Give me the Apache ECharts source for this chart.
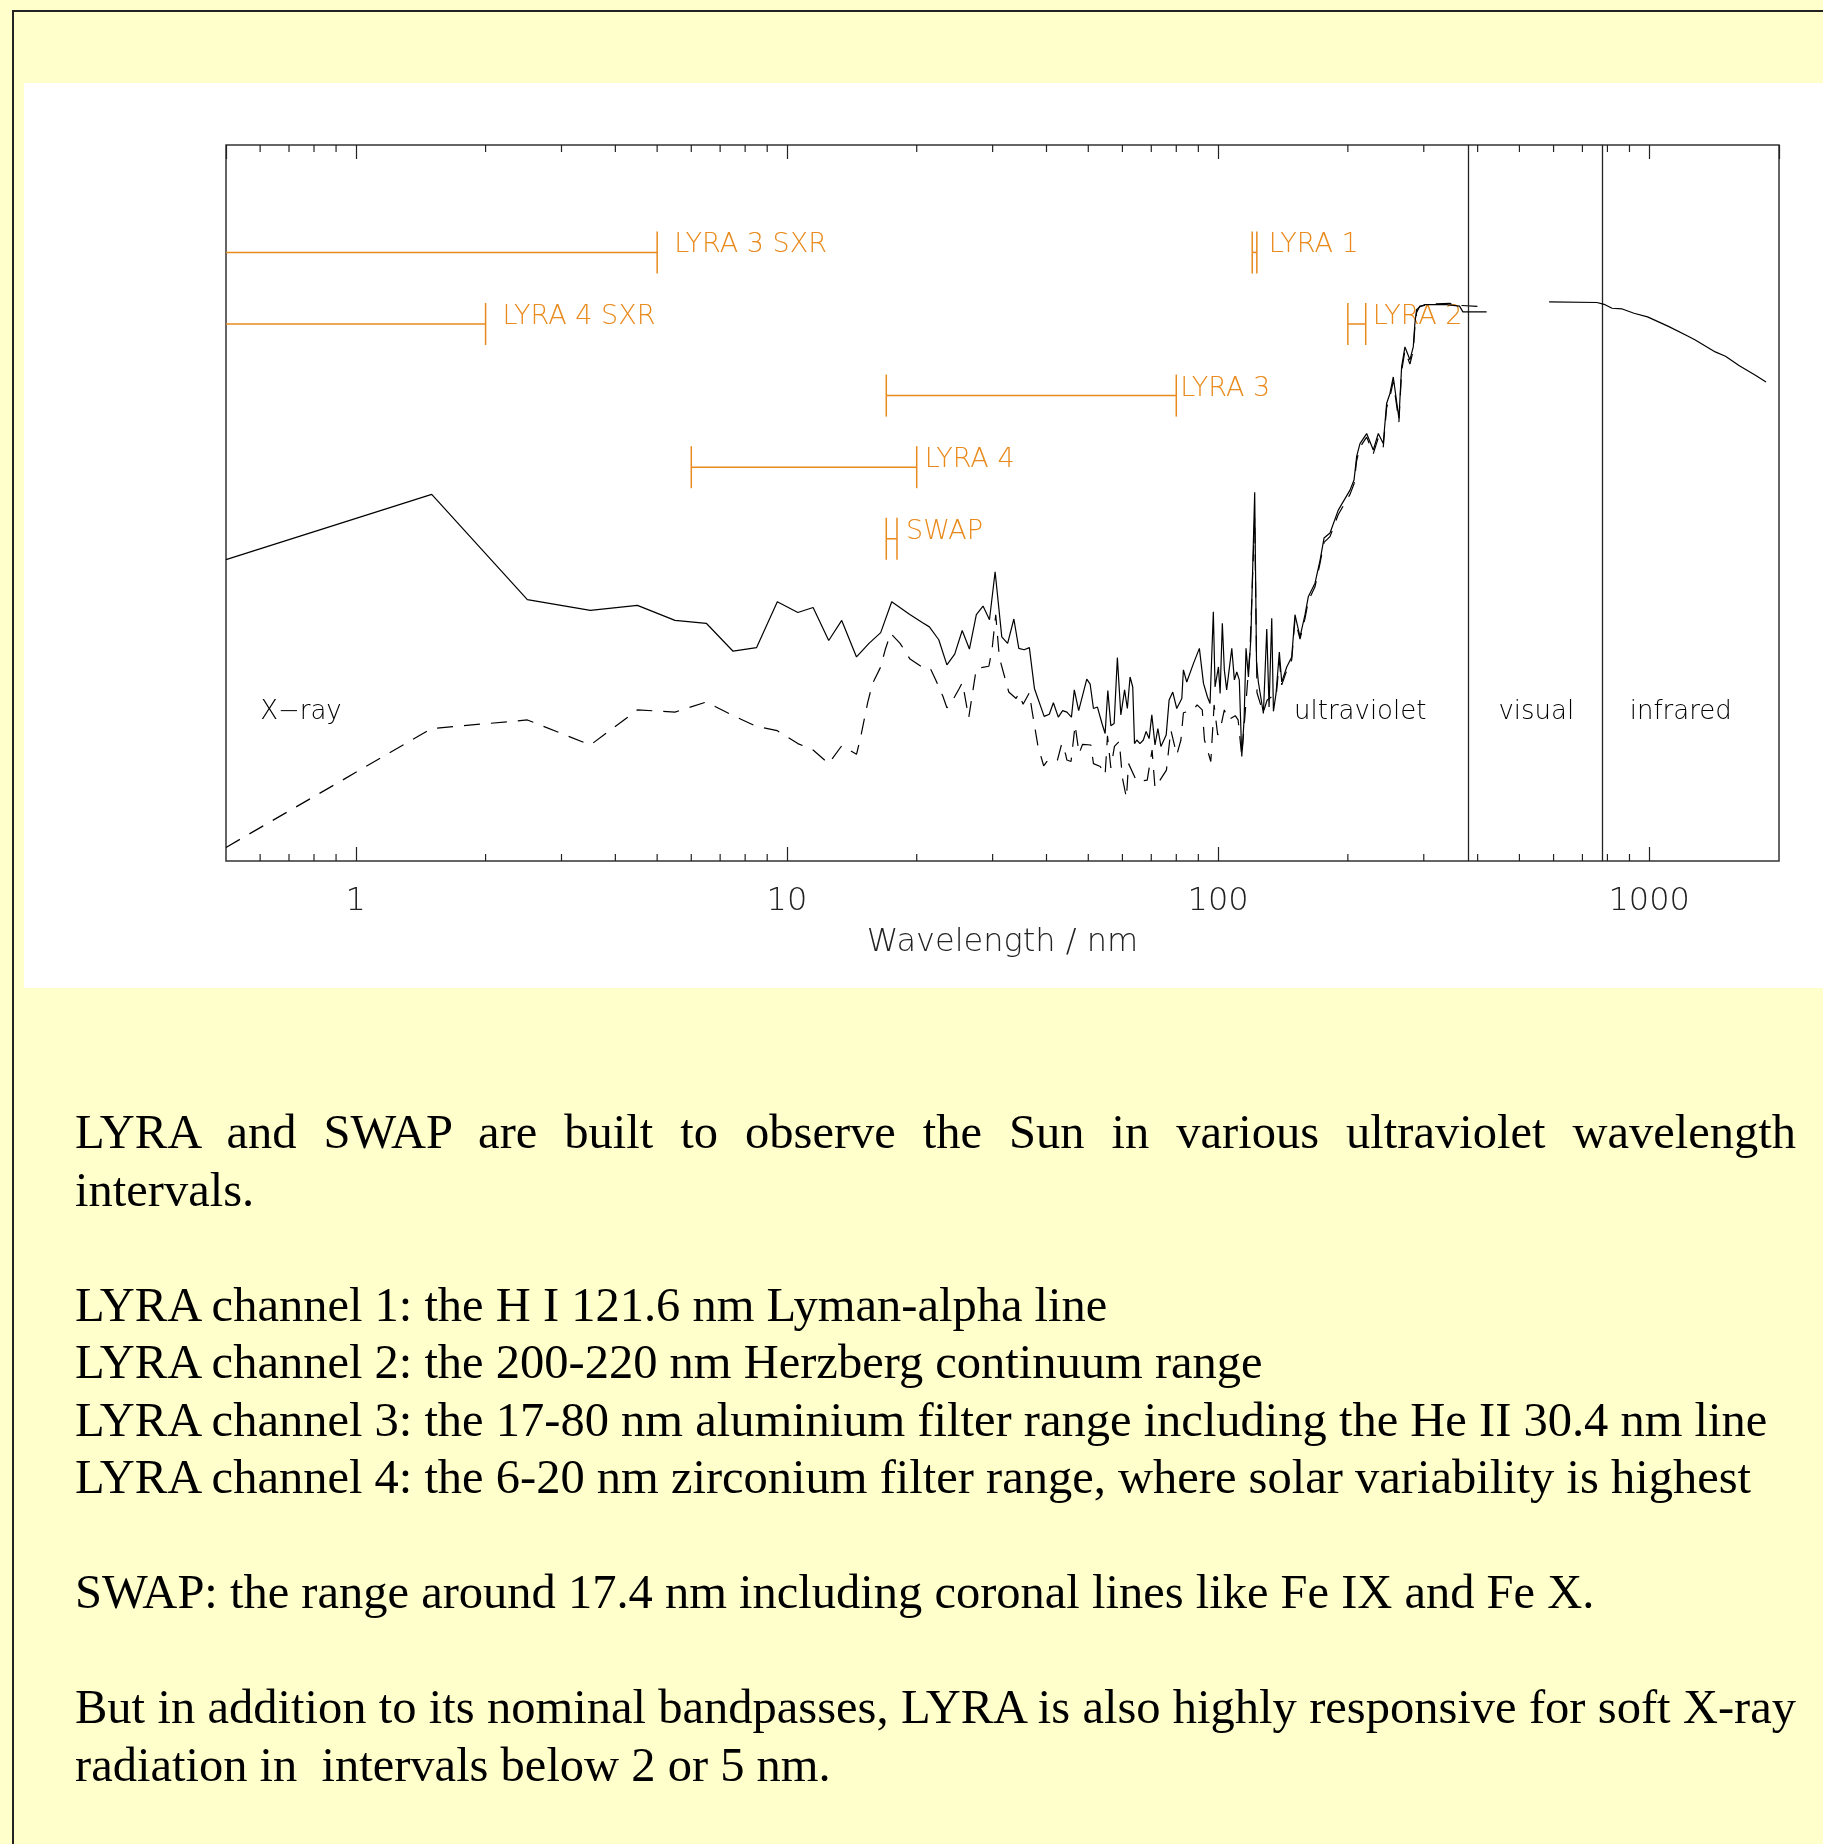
<!DOCTYPE html>
<html><head><meta charset="utf-8">
<script src="https://cdn.jsdelivr.net/npm/echarts@6/dist/echarts.min.js"></script>
<style>
html,body{margin:0;padding:0;width:1823px;height:1844px;overflow:hidden;background:#FFFFCC;}
#frame{position:absolute;left:12px;top:10px;width:1900px;height:1900px;border:2px solid #222;box-sizing:border-box;}
#panel{position:absolute;left:24px;top:83px;width:1799px;height:905px;background:#fff;}
#chart{position:absolute;left:0;top:0;width:1823px;height:1000px;}
#text{position:absolute;left:75px;top:1103px;width:1721px;font-family:"Liberation Serif","Times New Roman",serif;font-size:48.5px;line-height:57.5px;color:#000;}
#text div{white-space:nowrap;height:57.5px;}
#text div.j{text-align:justify;text-align-last:justify;white-space:normal;}
</style></head>
<body>
<div id="frame"></div>
<div id="panel"></div>
<div id="chart"></div>
<div id="text">
<div class="j">LYRA and SWAP are built to observe the Sun in various ultraviolet wavelength</div>
<div>intervals.</div>
<div>&nbsp;</div>
<div>LYRA channel 1: the H I 121.6 nm Lyman-alpha line</div>
<div>LYRA channel 2: the 200-220 nm Herzberg continuum range</div>
<div>LYRA channel 3: the 17-80 nm aluminium filter range including the He II 30.4 nm line</div>
<div>LYRA channel 4: the 6-20 nm zirconium filter range, where solar variability is highest</div>
<div>&nbsp;</div>
<div>SWAP: the range around 17.4 nm including coronal lines like Fe IX and Fe X.</div>
<div>&nbsp;</div>
<div class="j">But in addition to its nominal bandpasses, LYRA is also highly responsive for soft X-ray</div>
<div>radiation in&nbsp; intervals below 2 or 5 nm.</div>
</div>
<script>
// ---- data ----
const solidWl = [0.5,1.5,2.5,3.5,4.5,5.5,6.5,7.5,8.5,9.5,10.6,11.5,12.5,13.4,14.5,15.5,16.5,17.5,19.2,20.6,21.4,22.5,23.5,24.5,25.5,26.5,27.5,28.5,29.5,30.4,31.5,32.5,33.6,34.5,35.5,36.5,37.5,39.5,40.6,41.5,42.6,43.6,44.6,45.7,46.4,47.5,49.6,50.5,51.4,52.5,53.8,54.7,55.5,56.4,57.4,58.4,59.5,60.7,61.6,62.5,63.4,64.0,64.8,65.9,67.1,68.1,69.2,70.2,71.4,72.5,73.7,75.8,77.0,78.5,80.2,82.4,83.1,84.6,87.7,90.5,92.5,94.5,95.8,97.5,98.4,100.2,101.1,102.3,103.4,104.7,107.6,109.1,110.5,112.0,113.5,114.9,116.1,117.6,119.1,121.6,122.8,124.0,127.4,129.7,131.3,133.2,134.4,136.3,138.7,140.5,144.3,148.2,150.8,154.9,159.1,161.9,167.8,172.4,176.1,181.8,190.0,202.3,206.7,209.6,213.4,221.1,229.1,235.3,241.6,246.0,250.4,254.9,262.7,266.5,271.3,278.6,283.6,286.1,288.7,293.8,301.8,338.8,363.1,369.7,419.7,500,586,756,790,820,866,922,991,1105,1231,1276,1423,1503,1615,1767,1866];
const solidVal = [42.1,51.2,36.5,35.0,35.7,33.6,33.2,29.3,29.8,36.2,34.7,35.4,30.8,33.6,28.5,30.4,31.9,36.2,34.5,33.3,32.7,30.9,27.4,28.9,32.2,29.6,34.4,35.6,33.7,40.4,31.3,30.4,33.8,29.7,29.5,29.8,24.1,20.2,20.5,22.1,20.1,21.0,20.8,20.1,23.9,21.0,25.4,24.7,21.3,21.5,19.2,17.8,23.8,18.9,19.2,28.4,20.4,23.9,21.3,25.7,24.3,16.4,16.9,16.4,16.9,18.1,17.1,20.4,16.2,18.5,16.0,17.6,22.5,23.6,21.3,22.7,26.7,25.0,27.6,29.7,24.8,22.9,22.0,34.8,24.3,27.1,23.4,33.2,26.7,23.9,29.7,25.3,26.4,25.3,14.6,19.7,29.7,25.7,30.9,51.5,27.8,25.0,20.6,32.4,21.5,33.9,20.9,23.4,29.2,25.0,27.1,28.5,34.4,31.3,34.4,36.9,38.8,42.0,45.1,45.8,49.0,51.8,53.2,56.5,58.3,59.7,57.4,59.7,58.3,63.9,65.3,67.6,61.8,69.0,71.8,70.0,71.8,75.1,77.0,77.4,77.7,77.7,77.5,76.7,76.7,null,78.1,78.0,77.7,77.2,77.1,76.5,76.0,74.7,73.3,72.8,71.1,70.5,69.2,67.8,66.9];
const dashedWl = [0.5,1.5,2.5,3.5,4.5,5.5,6.5,7.5,8.5,9.5,10.6,11.5,12.5,13.4,14.5,14.8,15.4,15.8,16.5,16.9,17.4,18.3,19.3,20.8,21.5,22.1,23.0,23.5,23.9,25.1,25.5,25.8,26.4,26.7,27.5,29.4,29.9,30.5,31.1,32.7,34.0,34.5,35.3,36.5,37.0,38.2,39.4,40.1,41.0,42.4,43.4,44.3,44.6,45.6,46.6,47.6,48.5,50.7,51.4,53.3,54.7,55.4,56.4,57.5,59.0,60.0,61.3,62.0,64.8,68.5,70.3,71.4,75.9,77.7,80.2,82.0,83.1,87.6,89.4,91.9,93.0,96.2,97.9,99.8,101.1,103.4,105.6,109.6,111.3,113.5,116.2,118.6,121.6,123.1,127.2,130.0,133.5,136.3,138.7,140.5,144.3,148.2,150.8,154.9,159.1,161.9,167.8,172.4,176.1,181.8,190.0,202.3,206.7,209.6,213.4,221.1,229.1,235.3,241.6,246.0,250.4,254.9,262.7,266.5,271.3,278.6,283.6,286.1,288.7,293.8,320.0,345.0,355.0,363.0,420.0];
const dashedVal = [1.9,18.5,19.7,16.2,21.1,20.8,22.2,20.3,18.8,18.2,16.4,15.5,13.6,16.1,14.9,17.1,22.2,24.8,27.1,29.5,31.8,30.4,28.2,26.9,26.9,25.4,23.0,21.4,21.8,24.1,24.9,23.4,20.0,21.9,26.9,27.2,29.5,34.4,28.4,23.6,22.7,23.4,21.9,23.5,21.1,16.1,13.3,13.9,13.6,14.1,16.4,14.9,14.1,13.9,19.0,15.0,16.3,16.2,13.6,13.2,12.0,17.5,13.0,16.0,16.7,11.6,8.8,13.6,11.1,11.3,15.5,10.2,12.7,18.3,14.8,16.9,20.7,21.1,21.8,21.1,16.9,13.9,21.8,17.6,18.3,21.1,19.7,20.3,19.7,14.6,22.5,29.5,48.0,23.5,20.7,22.5,23.0,22.8,28.0,24.6,26.6,28.1,33.8,31.0,33.9,36.3,38.3,41.6,44.5,45.3,48.4,51.2,52.7,55.9,57.8,59.2,56.9,59.1,57.8,63.3,64.8,67.0,61.3,68.4,71.3,69.4,71.3,74.6,76.6,77.5,77.8,77.9,77.4,77.6,77.4];

const bandNames = ['LYRA 3 SXR','LYRA 4 SXR','LYRA 3','LYRA 4','SWAP','LYRA 1','LYRA 2'];
const bandStart = [0.1, 0.1, 17, 6, 17, 120, 200];
const bandEnd   = [5, 2, 80, 20, 18, 123, 220];
const bandLevel = [85, 75, 65, 55, 45, 85, 75];

const regionNames = ['X\u2212ray','ultraviolet','visual','infrared'];
const regionStart = [0.6, 150, 447, 901];
const regionLevel = [20.8, 20.8, 20.8, 20.8];

const regionBounds = [380, 780];
const tickLabels = ['1','10','100','1000'];
const minorTicks = [0.6,0.7,0.8,0.9,2,3,4,5,6,7,8,9,20,30,40,50,60,70,80,90,200,300,400,500,600,700,800,900];

// ---- styles ----
const ORANGE = '#E98A1C';
const labelGap = [17, 17, 4, 8, 9, 12, 7];
const FONT = '"DejaVu Sans", Arial, sans-serif';

const chart = echarts.init(document.getElementById('chart'), null, {renderer:'canvas'});

const toPairs = (xs, ys) => xs.map((x, i) => [x, ys[i] === null ? '-' : ys[i]]);

const xBase = {
  type: 'log', logBase: 10, min: 0.5, max: 2000,
  axisLine: {show: false},
  splitLine: {show: false},
  minorTick: {show: false},
  axisTick: {show: true, inside: true, length: 14, lineStyle: {color: '#222', width: 1.2}}
};

const option = {
  backgroundColor: 'transparent',
  animation: false,
  grid: {left: 226, top: 145, width: 1553, height: 716, show: true, borderColor: '#333', borderWidth: 1.5, backgroundColor: 'transparent'},
  xAxis: [
    Object.assign({}, xBase, {
      position: 'bottom',
      axisLabel: {
        show: true, margin: 25, fontSize: 32, fontFamily: FONT, fontWeight: 200, color: '#222',
        showMinLabel: false, showMaxLabel: false,
        formatter: v => { const s = String(Math.round(v * 1000) / 1000); return tickLabels.includes(s) ? s : ''; }
      },
      name: 'Wavelength / nm', nameLocation: 'middle', nameGap: 66,
      nameTextStyle: {fontSize: 32, fontFamily: FONT, fontWeight: 200, color: '#222'}
    }),
    Object.assign({}, xBase, {position: 'top', axisLabel: {show: false}})
  ],
  yAxis: {type: 'value', min: 0, max: 100, show: false},
  series: [
    {
      type: 'custom', name: 'bands', z: 2, clip: true,
      data: bandNames.map((n, i) => [bandStart[i], bandEnd[i], i, bandLevel[i]]),
      encode: {x: [0, 1], y: 3},
      renderItem: (params, api) => {
        const i = api.value(2);
        const lv = api.value(3);
        const p1 = api.coord([api.value(0), lv]);
        const p2 = api.coord([api.value(1), lv]);
        const h = 21;
        const st = {stroke: ORANGE, lineWidth: 1.5};
        return {type: 'group', children: [
          {type: 'line', shape: {x1: p1[0], y1: p1[1], x2: p2[0], y2: p2[1]}, style: st},
          {type: 'line', shape: {x1: p1[0], y1: p1[1] - h, x2: p1[0], y2: p1[1] + h}, style: st},
          {type: 'line', shape: {x1: p2[0], y1: p2[1] - h, x2: p2[0], y2: p2[1] + h}, style: st},
          {type: 'text', x: p2[0] + labelGap[i], y: p2[1] - 7,
            style: {text: bandNames[i], fill: ORANGE, font: '200 27px ' + FONT, align: 'left', verticalAlign: 'middle'}}
        ]};
      }
    },
    {
      type: 'custom', name: 'minorTicks', z: 3, silent: true,
      data: minorTicks.map(v => [v, 0]),
      encode: {x: 0, y: 1},
      renderItem: (params, api) => {
        const b = api.coord([api.value(0), 0]);
        const t = api.coord([api.value(0), 100]);
        const st = {stroke: '#222', lineWidth: 1.2};
        return {type: 'group', children: [
          {type: 'line', shape: {x1: b[0], y1: b[1], x2: b[0], y2: b[1] - 7}, style: st},
          {type: 'line', shape: {x1: t[0], y1: t[1], x2: t[0], y2: t[1] + 7}, style: st}
        ]};
      }
    },
    {
      type: 'custom', name: 'regions', z: 3, silent: true,
      data: regionNames.map((n, i) => [regionStart[i], regionLevel[i], i]),
      encode: {x: 0, y: 1},
      renderItem: (params, api) => {
        const p = api.coord([api.value(0), api.value(1)]);
        return {type: 'text', x: p[0], y: p[1],
          style: {text: regionNames[api.value(2)], fill: '#000', font: '200 26px ' + FONT, align: 'left', verticalAlign: 'middle'}};
      }
    },
    {
      type: 'line', name: 'solid', z: 5, showSymbol: false, symbol: 'none', connectNulls: false, clip: true,
      data: toPairs(solidWl, solidVal),
      lineStyle: {color: '#000', width: 1.2},
      markLine: {
        silent: true, symbol: 'none', label: {show: false},
        lineStyle: {color: '#222', width: 1.3, type: 'solid'},
        data: regionBounds.map(v => ({xAxis: v}))
      }
    },
    {
      type: 'line', name: 'dashed', z: 4, showSymbol: false, symbol: 'none', clip: true,
      data: toPairs(dashedWl, dashedVal),
      lineStyle: {color: '#000', width: 1.2, type: [16, 11]}
    }
  ]
};
chart.setOption(option);
</script>
</body></html>
